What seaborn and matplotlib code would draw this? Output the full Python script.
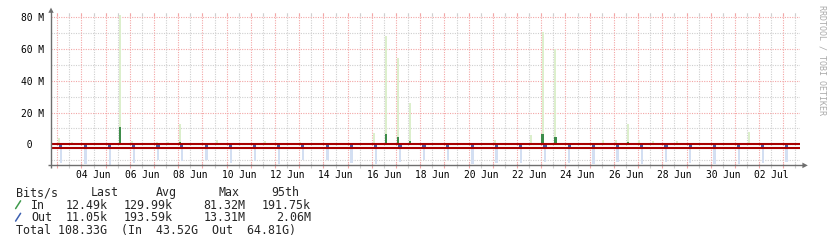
import matplotlib
matplotlib.use("Agg")
import matplotlib.pyplot as plt
from matplotlib.patches import Polygon
import pandas as pd
import seaborn as sns

# ---- data (time t = day of June, so 32 means 02 Jul; values in Mbit/s) ----
t_start, t_end = 2.74, 33.69

in_times = [3.07, 3.595, 5.591, 6.074, 7.107, 7.574, 8.070, 9.587, 11.583, 13.029,
            16.087, 16.583, 17.079, 17.574, 18.525, 21.087, 22.574, 23.058, 23.579,
            25.550, 26.087, 26.583, 27.037, 27.603, 28.595, 31.583]
in_max_M = [3.8, 1.5, 81.32, 2.0, 1.5, 1.5, 13.0, 3.0, 2.0, 1.5,
            7.1, 68.5, 54.2, 26.0, 1.0, 3.0, 5.7, 70.5, 60.0,
            3.0, 2.5, 12.6, 3.0, 2.0, 2.0, 7.7]
in_avg_M = [1.0, 0.2, 11.0, 0.2, 0.1, 0.1, 1.5, 0.3, 0.2, 0.1,
            0.6, 6.3, 4.5, 2.0, 0.1, 0.8, 0.6, 6.3, 4.5,
            0.8, 0.3, 1.5, 0.8, 0.2, 0.2, 1.0]

out_times = [3.15, 4.17, 5.17, 6.16, 7.16, 8.15, 9.17, 10.17, 11.16, 12.15,
             13.15, 14.16, 15.16, 16.16, 17.16, 18.15, 19.14, 20.16, 21.15, 22.15,
             23.15, 24.15, 25.16, 26.15, 27.15, 28.15, 29.15, 30.15, 31.16, 32.15, 33.14]
out_max_M = [11.6, 12.2, 13.31, 11.8, 10.1, 10.7, 9.7, 11.6, 10.5, 12.2,
             10.1, 9.7, 11.8, 12.6, 11.2, 9.7, 10.1, 12.2, 11.8, 11.6,
             11.2, 11.8, 12.2, 11.2, 12.2, 11.2, 11.8, 12.2, 12.2, 11.8, 11.2]
out_avg_M = [1.6, 1.6, 1.7, 1.6, 1.5, 1.6, 1.5, 1.6, 1.5, 1.6,
             1.5, 1.5, 1.6, 1.7, 1.6, 1.5, 1.5, 1.6, 1.6, 1.6,
             1.6, 1.6, 1.6, 1.6, 1.6, 1.6, 1.6, 1.6, 1.6, 1.6, 1.6]

in_95_M = 0.19175
out_95_M = 2.06

y_ticks = [80, 60, 40, 20, 0]
y_tick_labels = ["80 M", "60 M", "40 M", "20 M", " 0"]
x_label_pos = [4.5, 6.5, 8.5, 10.5, 12.5, 14.5, 16.5, 18.5, 20.5, 22.5,
               24.5, 26.5, 28.5, 30.5, 32.5]
x_labels = ["04 Jun", "06 Jun", "08 Jun", "10 Jun", "12 Jun", "14 Jun", "16 Jun",
            "18 Jun", "20 Jun", "22 Jun", "24 Jun", "26 Jun", "28 Jun", "30 Jun",
            "02 Jul"]

legend_head = ["Bits/s", "Last", "Avg", "Max", "95th"]
legend_in = ["In", "12.49k", "129.99k", "81.32M", "191.75k"]
legend_out = ["Out", "11.05k", "193.59k", "13.31M", "2.06M"]
total_line = "Total 108.33G  (In  43.52G  Out  64.81G)"

# ---- styling ----
sns.set_style("white")
MONO = ["DejaVu Sans Mono"]
plt.rcParams["font.family"] = MONO

W, H = 831, 247
L, R, T, B = 51, 800, 13, 165.4
y_lo, y_hi = -13.31, 82.71

fig = plt.figure(figsize=(W / 100, H / 100), dpi=100)
fig.patch.set_facecolor("white")
ax = fig.add_axes([L / W, 1 - B / H, (R - L) / W, (B - T) / H])
ax.set_xlim(t_start, t_end)
ax.set_ylim(y_lo, y_hi)
for s in ax.spines.values():
    s.set_visible(False)
ax.set_facecolor("white")

MAJOR = "#f3a6a6"
MINOR = "#cfcfcf"
dots = (0, (1, 1.2))

# grid: horizontal every 10 M, vertical every 12 h
h_major = [0, 20, 40, 60, 80]
h_minor = [-10, 10, 30, 50, 70]
v_major = list(range(3, 34))
v_minor = [d + 0.5 for d in range(2, 34) if t_start < d + 0.5 < t_end]
ax.hlines(h_minor, t_start, t_end, colors=MINOR, linestyles=dots, lw=0.8, zorder=0)
ax.vlines(v_minor, y_lo, y_hi, colors=MINOR, linestyles=dots, lw=0.8, zorder=0)
ax.hlines(h_major, t_start, t_end, colors=MAJOR, linestyles=dots, lw=0.8, zorder=0)
ax.vlines(v_major, y_lo, y_hi, colors=MAJOR, linestyles=dots, lw=0.8, zorder=0)
# short solid tick marks at the frame edges
xt = ax.get_xaxis_transform()
ax.vlines(v_minor, 1 - 2.5 / (B - T), 1, colors=MINOR, lw=0.8, transform=xt, clip_on=False)
ax.vlines(v_major, 1 - 2.5 / (B - T), 1, colors=MAJOR, lw=0.8, transform=xt, clip_on=False)
ax.vlines(v_minor, -2.6 / (B - T), 2.5 / (B - T), colors=MINOR, lw=0.8, transform=xt, clip_on=False)
ax.vlines(v_major, -2.6 / (B - T), 2.5 / (B - T), colors=MAJOR, lw=0.8, transform=xt, clip_on=False)

# inbound: peak (light) and average (dark)
ax.bar(in_times, in_max_M, width=0.08, color="#dcefcc", lw=0, zorder=2)
ax.bar(in_times, in_avg_M, width=0.12, color="#3d8c49", lw=0, zorder=3)
# outbound drawn below zero
ax.bar(out_times, [-v for v in out_max_M], width=0.1, color="#d3dff2", lw=0, zorder=2)
ax.bar(out_times, [-v for v in out_avg_M], width=0.13, color="#4a5ea6", lw=0, zorder=3)

# 95th percentile lines
pct = pd.DataFrame({
    "t": [t_start, t_end, t_start, t_end],
    "bps": [in_95_M, in_95_M, -out_95_M, -out_95_M],
    "dir": ["In", "In", "Out", "Out"],
})
sns.lineplot(data=pct, x="t", y="bps", hue="dir", palette=["#a80000", "#a80000"],
             lw=1.5, legend=False, ax=ax, zorder=5)
ax.set_xlabel("")
ax.set_ylabel("")

# tick labels
ax.set_xticks(x_label_pos)
ax.set_xticklabels(x_labels, fontsize=6.9, family=MONO, color="black")
ax.set_yticks(y_ticks)
ax.set_yticklabels(y_tick_labels, fontsize=6.9, family=MONO, color="black", ha="left")
ax.tick_params(axis="x", length=0, pad=3.6)
ax.tick_params(axis="y", length=0, pad=(L - 20.7) * 0.72)
ax.tick_params(which="minor", length=0)

# ---- overlay in pixel coordinates: axes arrows, legend, watermark ----
ov = fig.add_axes([0, 0, 1, 1], zorder=10)
ov.set_xlim(0, W)
ov.set_ylim(H, 0)
ov.axis("off")
ov.patch.set_alpha(0)

AX = "#6e6e6e"
ov.plot([L, L], [168, 11], color=AX, lw=1.0, solid_capstyle="butt")
ov.plot([48, 803], [B, B], color=AX, lw=1.0, solid_capstyle="butt")
ov.add_patch(Polygon([[48.3, 12.8], [53.7, 12.8], [51, 7.6]], closed=True, color=AX, lw=0))
ov.add_patch(Polygon([[802.4, 162.6], [802.4, 168.2], [807.8, 165.4]], closed=True, color=AX, lw=0))

FS = 8.4
rows_base = [196.2, 208.7, 221.2, 233.7]
head_x = [16, 91, 155.7, 218.3, 271.7]
val_x = [31, 66, 123.3, 203.3, 262.3]
for txt, x in zip(legend_head, head_x):
    ov.text(x, rows_base[0], txt, fontsize=FS, family=MONO, va="baseline", ha="left")
for row, base in ((legend_in, rows_base[1]), (legend_out, rows_base[2])):
    for i, (txt, x) in enumerate(zip(row, val_x)):
        if i == 4:
            ov.text(310.8, base, txt, fontsize=FS, family=MONO, va="baseline", ha="right")
        else:
            ov.text(x, base, txt, fontsize=FS, family=MONO, va="baseline", ha="left")
ov.plot([15.6, 20.6], [208.6, 200.8], color="#3f9a4c", lw=1.1)
ov.plot([15.6, 20.6], [221.1, 213.3], color="#3b5fb0", lw=1.1)
ov.text(16, rows_base[3], total_line, fontsize=FS, family=MONO, va="baseline", ha="left")

ov.text(821.7, 60, "RRDTOOL / TOBI OETIKER", fontsize=6.0, family=MONO, color="#aaaaaa",
        rotation=-90, ha="center", va="center")

fig.savefig("out.png", dpi=100, facecolor="white")
